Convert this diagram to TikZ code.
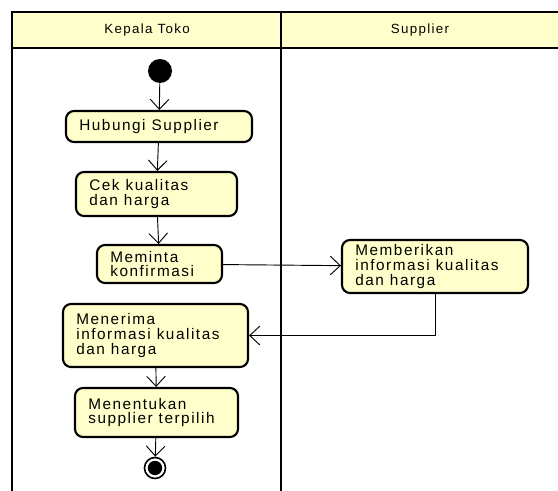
\documentclass[tikz,border=0pt]{standalone}
\usepackage{fontspec}
\usetikzlibrary{arrows.meta}
\newfontfamily\umlfont[LetterSpace=10]{Liberation Sans}
\definecolor{umlyellow}{RGB}{255,255,204}
\tikzset{
  act/.style={draw, line width=1.6pt, rounded corners=6pt, fill=umlyellow,
    inner xsep=10pt, inner ysep=0pt, align=left,
    font=\fontsize{11.5}{11}\umlfont,
    execute at begin node={\spaceskip=4.5pt\relax}},
  flow/.style={-{Straight Barb[length=7.5pt,width=14pt]}, line width=0.7pt},
  lane/.style={line width=2pt}
}
\begin{document}
\begin{tikzpicture}[x=0.75pt, y=-0.75pt]
\useasboundingbox (0,0) rectangle (558,491);

% swimlanes
\fill[umlyellow] (12,12) rectangle (565,48);
\draw[lane] (12,495) -- (12,12) -- (565,12);
\draw[lane] (12,48) -- (565,48);
\draw[lane] (281,12) -- (281,495);
\node[font=\fontsize{10}{11}\umlfont] (laneA) at (147,30) {Kepala Toko};
\node[font=\fontsize{10}{11}\umlfont] (laneB) at (420,30) {Supplier};

% start and end
\node[circle, fill=black, minimum size=18pt, inner sep=0pt] (start) at (160,71) {};
\node[circle, draw=black, line width=1.2pt, fill=white, minimum size=15.75pt, inner sep=0pt,
  path picture={\fill[black] (path picture bounding box.center) circle (5.4pt);}] (fin) at (155,468) {};

% actions
\node[act, text width=119.5pt, minimum height=23.25pt] (hubungi) at (159,126.5) {Hubungi Supplier};
\node[act, text width=100.75pt, minimum height=33pt] (cek) at (156.5,194) {Cek kualitas\\dan harga};
\node[act, text width=73.75pt, minimum height=28.5pt] (minta) at (159.5,264) {Meminta\\konfirmasi};
\node[act, text width=119.5pt, minimum height=39.75pt] (beri) at (435,266.5) {Memberikan\\informasi kualitas\\dan harga};
\node[act, text width=118.75pt, minimum height=47.25pt] (terima) at (155.5,335.5) {Menerima\\informasi kualitas\\dan harga};
\node[act, text width=102.25pt, minimum height=36.75pt] (tentu) at (156.5,412.5) {Menentukan\\supplier terpilih};

\draw[flow] (start) -- (hubungi);
\draw[flow] (hubungi) -- (cek);
\draw[flow] (cek) -- (minta);
\draw[flow] (minta) -- (beri);
\draw[flow] (beri.south) |- (terima);
\draw[flow] (terima) -- (tentu);
\draw[flow] (tentu) -- (fin);

\end{tikzpicture}
\end{document}
